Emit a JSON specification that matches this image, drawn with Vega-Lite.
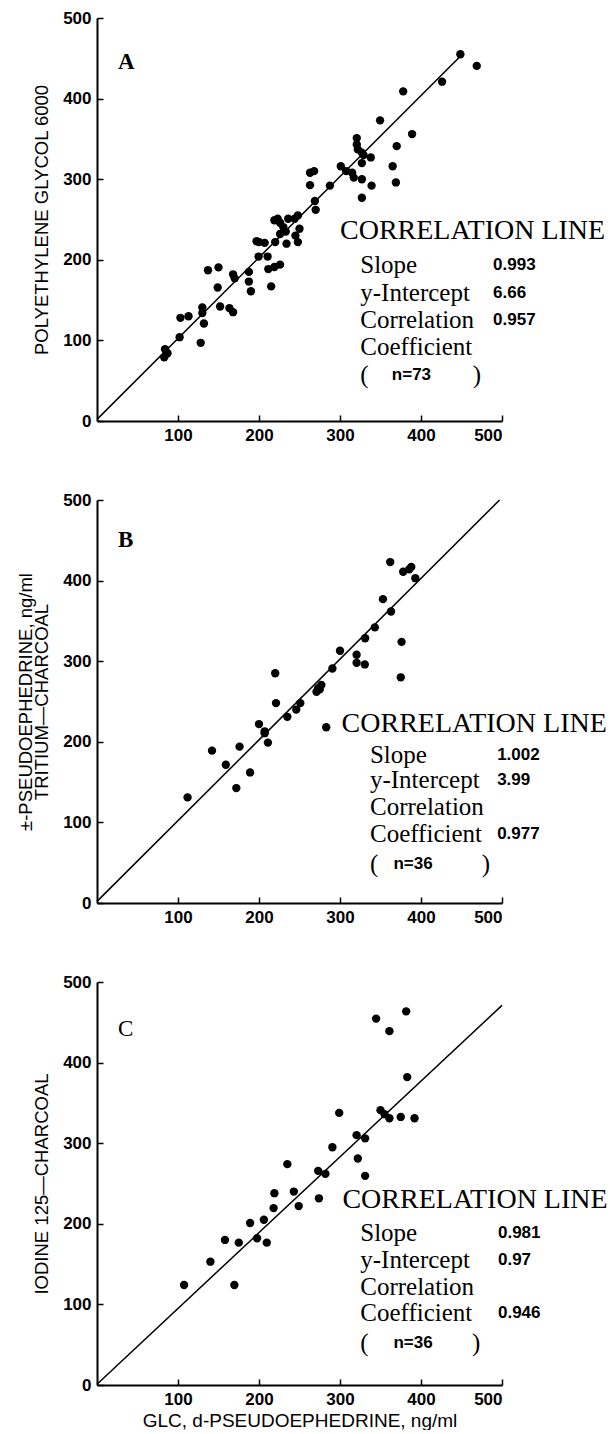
{
  "$schema": "https://vega.github.io/schema/vega-lite/v6.json",
  "background": "white",
  "padding": {"left": 16, "top": 9, "right": 0, "bottom": 0},
  "spacing": 48,
  "config": {
    "view": {"stroke": null},
    "axis": {
      "grid": false,
      "domainColor": "black", "domainWidth": 2,
      "tickColor": "black", "tickWidth": 1.5, "tickSize": -6,
      "labelPadding": 12,
      "labelFont": "Liberation Sans", "labelFontWeight": "bold", "labelFontSize": 17, "labelColor": "black",
      "titleFont": "Liberation Sans", "titleFontWeight": "normal", "titleFontSize": 18.5, "titleColor": "black"
    },
    "axisY": {"titlePadding": 11}
  },
  "datasets": {
    "ptsA": [
      {"x":448.6,"y":455},{"x":468.8,"y":440.6},{"x":426,"y":421},{"x":378,"y":409},{"x":349.5,"y":373},
      {"x":389,"y":356},{"x":370,"y":341},{"x":365,"y":316},{"x":369,"y":296},{"x":320.7,"y":351},
      {"x":320.7,"y":343},{"x":322,"y":337},{"x":327,"y":333},{"x":338,"y":327},{"x":327,"y":320},
      {"x":301,"y":316},{"x":307.7,"y":310},{"x":315,"y":308},{"x":317,"y":302},{"x":327,"y":300},
      {"x":339,"y":292},{"x":327,"y":277},{"x":263,"y":308},{"x":268,"y":310},{"x":263,"y":292.6},
      {"x":287.5,"y":292},{"x":269,"y":273},{"x":270,"y":262},{"x":248,"y":255},{"x":244,"y":251},
      {"x":236,"y":251},{"x":219,"y":249},{"x":226,"y":246},{"x":230,"y":240.6},{"x":250,"y":238.5},
      {"x":226,"y":232},{"x":234,"y":220},{"x":220,"y":222},{"x":248,"y":222},{"x":197,"y":223},
      {"x":207,"y":221},{"x":199.5,"y":204},{"x":210.6,"y":204},{"x":211.5,"y":188.5},{"x":219,"y":191},
      {"x":226,"y":194},{"x":215,"y":167},{"x":187.5,"y":185},{"x":187.5,"y":173},{"x":190,"y":161},
      {"x":168,"y":182},{"x":170,"y":177},{"x":137,"y":187},{"x":150,"y":190.6},{"x":149,"y":165.6},
      {"x":152,"y":142},{"x":163.5,"y":140},{"x":168,"y":135},{"x":130,"y":141},{"x":130,"y":134},
      {"x":132,"y":121},{"x":128,"y":97},{"x":103,"y":128},{"x":113,"y":130},{"x":102,"y":104},
      {"x":84,"y":89},{"x":83,"y":79},{"x":87,"y":84},{"x":233,"y":235},{"x":223,"y":251},
      {"x":245,"y":230},{"x":200,"y":222},{"x":329,"y":330}
    ],
    "ptsB": [
      {"x":111.8,"y":131},{"x":142,"y":189},{"x":159,"y":171.5},{"x":172,"y":142.6},{"x":176,"y":194},
      {"x":189,"y":162},{"x":200,"y":222},{"x":207,"y":210.7},{"x":211,"y":199},{"x":220,"y":285},
      {"x":221,"y":248},{"x":235,"y":231},{"x":246,"y":240},{"x":251,"y":248},{"x":271,"y":262},
      {"x":273,"y":266.5},{"x":277,"y":270.6},{"x":283,"y":218},{"x":290.6,"y":291},{"x":300,"y":313},
      {"x":320.5,"y":308},{"x":320.5,"y":298},{"x":330.6,"y":296},{"x":331,"y":328.5},{"x":343,"y":342},
      {"x":353,"y":377},{"x":363,"y":361.6},{"x":362,"y":423},{"x":376,"y":324},{"x":375,"y":280},
      {"x":378,"y":411},{"x":388,"y":417},{"x":393,"y":403},{"x":275,"y":265},{"x":207,"y":213},
      {"x":385.5,"y":414}
    ],
    "ptsC": [
      {"x":107.5,"y":124},{"x":140,"y":153},{"x":158,"y":180},{"x":169.6,"y":124},{"x":175,"y":176.6},
      {"x":189,"y":201},{"x":197.6,"y":182},{"x":206,"y":205},{"x":209.6,"y":176.6},{"x":218,"y":219.5},
      {"x":219,"y":238},{"x":235,"y":274},{"x":243,"y":240},{"x":249,"y":222},{"x":274,"y":231.6},
      {"x":273,"y":265.7},{"x":282,"y":262},{"x":290.6,"y":295},{"x":299,"y":337.6},{"x":320.5,"y":310},
      {"x":322,"y":281},{"x":331,"y":306},{"x":331,"y":259.5},{"x":344.6,"y":454.6},{"x":350,"y":341},
      {"x":361,"y":439},{"x":361,"y":331},{"x":381.7,"y":463.6},{"x":383,"y":382},{"x":375,"y":332.6},
      {"x":392,"y":331},{"x":355,"y":336}
    ],
    "lines": [
      {"panel":"A","x":0,"y":2},{"panel":"A","x":448,"y":452},
      {"panel":"B","x":0,"y":2},{"panel":"B","x":497,"y":500},
      {"panel":"C","x":0,"y":1},{"panel":"C","x":500,"y":471}
    ],
    "notes": [
      {"panel":"A","kind":"head","label":"CORRELATION LINE","x":300,"y":236},
      {"panel":"A","kind":"name","label":"Slope","x":325,"y":194},
      {"panel":"A","kind":"name","label":"y-Intercept","x":325,"y":159},
      {"panel":"A","kind":"name","label":"Correlation","x":325,"y":125},
      {"panel":"A","kind":"name","label":"Coefficient","x":325,"y":92},
      {"panel":"A","kind":"name","label":"(","x":325,"y":57},
      {"panel":"A","kind":"name","label":")","x":464,"y":57},
      {"panel":"A","kind":"value","label":"0.993","x":489,"y":194},
      {"panel":"A","kind":"value","label":"6.66","x":489,"y":159},
      {"panel":"A","kind":"value","label":"0.957","x":489,"y":125},
      {"panel":"A","kind":"value","label":"n=73","x":364,"y":57},
      {"panel":"A","kind":"letter","label":"A","x":26,"y":445},
      {"panel":"B","kind":"head","label":"CORRELATION LINE","x":302,"y":222},
      {"panel":"B","kind":"name","label":"Slope","x":337,"y":184},
      {"panel":"B","kind":"name","label":"y-Intercept","x":337,"y":152},
      {"panel":"B","kind":"name","label":"Correlation","x":337,"y":119},
      {"panel":"B","kind":"name","label":"Coefficient","x":337,"y":85},
      {"panel":"B","kind":"name","label":"(","x":337,"y":48},
      {"panel":"B","kind":"name","label":")","x":475,"y":48},
      {"panel":"B","kind":"value","label":"1.002","x":494,"y":184},
      {"panel":"B","kind":"value","label":"3.99","x":494,"y":152},
      {"panel":"B","kind":"value","label":"0.977","x":494,"y":85},
      {"panel":"B","kind":"value","label":"n=36","x":366,"y":48},
      {"panel":"B","kind":"letter","label":"B","x":26,"y":450},
      {"panel":"C","kind":"head","label":"CORRELATION LINE","x":303,"y":229},
      {"panel":"C","kind":"name","label":"Slope","x":325,"y":188},
      {"panel":"C","kind":"name","label":"y-Intercept","x":325,"y":155},
      {"panel":"C","kind":"name","label":"Correlation","x":325,"y":122},
      {"panel":"C","kind":"name","label":"Coefficient","x":325,"y":89},
      {"panel":"C","kind":"name","label":"(","x":325,"y":52},
      {"panel":"C","kind":"name","label":")","x":463,"y":52},
      {"panel":"C","kind":"value","label":"0.981","x":495,"y":188},
      {"panel":"C","kind":"value","label":"0.97","x":495,"y":155},
      {"panel":"C","kind":"value","label":"0.946","x":495,"y":89},
      {"panel":"C","kind":"value","label":"n=36","x":366,"y":52},
      {"panel":"C","kind":"letterN","label":"C","x":26,"y":442}
    ]
  },
  "vconcat": [
    {
      "width": 405, "height": 403,
      "encoding": {
        "x": {"field": "x", "type": "quantitative", "scale": {"domain": [0, 500], "nice": false}, "axis": {"values": [100, 200, 300, 400, 500], "title": null}},
        "y": {"field": "y", "type": "quantitative", "scale": {"domain": [0, 500], "nice": false}, "axis": {"values": [0, 100, 200, 300, 400, 500], "title": "POLYETHYLENE GLYCOL 6000"}}
      },
      "layer": [
        {"data": {"name": "lines"}, "transform": [{"filter": "datum.panel === 'A'"}], "mark": {"type": "line", "color": "black", "strokeWidth": 1.5}},
        {"data": {"name": "ptsA"}, "mark": {"type": "circle", "color": "black", "size": 70, "opacity": 1}},
        {"data": {"name": "notes"}, "transform": [{"filter": "datum.panel === 'A' && datum.kind === 'head'"}], "mark": {"type": "text", "font": "Liberation Serif", "fontSize": 28, "align": "left", "baseline": "middle", "color": "black"}, "encoding": {"text": {"field": "label"}}},
        {"data": {"name": "notes"}, "transform": [{"filter": "datum.panel === 'A' && datum.kind === 'name'"}], "mark": {"type": "text", "font": "Liberation Serif", "fontSize": 25, "align": "left", "baseline": "middle", "color": "black"}, "encoding": {"text": {"field": "label"}}},
        {"data": {"name": "notes"}, "transform": [{"filter": "datum.panel === 'A' && datum.kind === 'value'"}], "mark": {"type": "text", "font": "Liberation Sans", "fontWeight": "bold", "fontSize": 17, "align": "left", "baseline": "middle", "color": "black"}, "encoding": {"text": {"field": "label"}}},
        {"data": {"name": "notes"}, "transform": [{"filter": "datum.panel === 'A' && datum.kind === 'letter'"}], "mark": {"type": "text", "font": "Liberation Serif", "fontWeight": "bold", "fontSize": 23, "align": "left", "baseline": "middle", "color": "black"}, "encoding": {"text": {"field": "label"}}}
      ]
    },
    {
      "width": 405, "height": 403,
      "encoding": {
        "x": {"field": "x", "type": "quantitative", "scale": {"domain": [0, 500], "nice": false}, "axis": {"values": [100, 200, 300, 400, 500], "title": null}},
        "y": {"field": "y", "type": "quantitative", "scale": {"domain": [0, 500], "nice": false}, "axis": {"values": [0, 100, 200, 300, 400, 500], "title": ["±-PSEUDOEPHEDRINE, ng/ml", "TRITIUM—CHARCOAL"], "titleLineHeight": 16}}
      },
      "layer": [
        {"data": {"name": "lines"}, "transform": [{"filter": "datum.panel === 'B'"}], "mark": {"type": "line", "color": "black", "strokeWidth": 1.5}},
        {"data": {"name": "ptsB"}, "mark": {"type": "circle", "color": "black", "size": 70, "opacity": 1}},
        {"data": {"name": "notes"}, "transform": [{"filter": "datum.panel === 'B' && datum.kind === 'head'"}], "mark": {"type": "text", "font": "Liberation Serif", "fontSize": 28, "align": "left", "baseline": "middle", "color": "black"}, "encoding": {"text": {"field": "label"}}},
        {"data": {"name": "notes"}, "transform": [{"filter": "datum.panel === 'B' && datum.kind === 'name'"}], "mark": {"type": "text", "font": "Liberation Serif", "fontSize": 25, "align": "left", "baseline": "middle", "color": "black"}, "encoding": {"text": {"field": "label"}}},
        {"data": {"name": "notes"}, "transform": [{"filter": "datum.panel === 'B' && datum.kind === 'value'"}], "mark": {"type": "text", "font": "Liberation Sans", "fontWeight": "bold", "fontSize": 17, "align": "left", "baseline": "middle", "color": "black"}, "encoding": {"text": {"field": "label"}}},
        {"data": {"name": "notes"}, "transform": [{"filter": "datum.panel === 'B' && datum.kind === 'letter'"}], "mark": {"type": "text", "font": "Liberation Serif", "fontWeight": "bold", "fontSize": 23, "align": "left", "baseline": "middle", "color": "black"}, "encoding": {"text": {"field": "label"}}}
      ]
    },
    {
      "width": 405, "height": 403,
      "encoding": {
        "x": {"field": "x", "type": "quantitative", "scale": {"domain": [0, 500], "nice": false}, "axis": {"values": [100, 200, 300, 400, 500], "title": "GLC, d-PSEUDOEPHEDRINE, ng/ml", "titleFontSize": 19, "titlePadding": 4}},
        "y": {"field": "y", "type": "quantitative", "scale": {"domain": [0, 500], "nice": false}, "axis": {"values": [0, 100, 200, 300, 400, 500], "title": "IODINE 125—CHARCOAL"}}
      },
      "layer": [
        {"data": {"name": "lines"}, "transform": [{"filter": "datum.panel === 'C'"}], "mark": {"type": "line", "color": "black", "strokeWidth": 1.5}},
        {"data": {"name": "ptsC"}, "mark": {"type": "circle", "color": "black", "size": 70, "opacity": 1}},
        {"data": {"name": "notes"}, "transform": [{"filter": "datum.panel === 'C' && datum.kind === 'head'"}], "mark": {"type": "text", "font": "Liberation Serif", "fontSize": 28, "align": "left", "baseline": "middle", "color": "black"}, "encoding": {"text": {"field": "label"}}},
        {"data": {"name": "notes"}, "transform": [{"filter": "datum.panel === 'C' && datum.kind === 'name'"}], "mark": {"type": "text", "font": "Liberation Serif", "fontSize": 25, "align": "left", "baseline": "middle", "color": "black"}, "encoding": {"text": {"field": "label"}}},
        {"data": {"name": "notes"}, "transform": [{"filter": "datum.panel === 'C' && datum.kind === 'value'"}], "mark": {"type": "text", "font": "Liberation Sans", "fontWeight": "bold", "fontSize": 17, "align": "left", "baseline": "middle", "color": "black"}, "encoding": {"text": {"field": "label"}}},
        {"data": {"name": "notes"}, "transform": [{"filter": "datum.panel === 'C' && datum.kind === 'letterN'"}], "mark": {"type": "text", "font": "Liberation Serif", "fontSize": 23, "align": "left", "baseline": "middle", "color": "black"}, "encoding": {"text": {"field": "label"}}}
      ]
    }
  ]
}
